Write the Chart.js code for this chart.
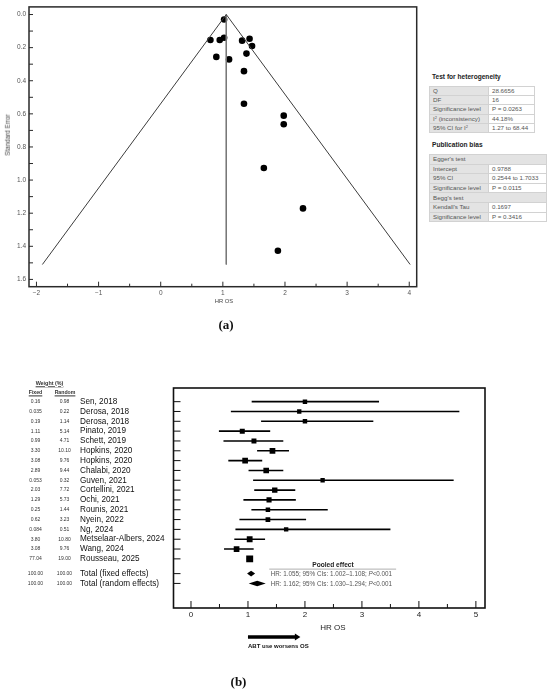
<!DOCTYPE html>
<html>
<head>
<meta charset="utf-8">
<script src="https://cdn.jsdelivr.net/npm/chart.js@4/dist/chart.umd.min.js"></script>
<style>
  body { margin: 0; background: #fff; width: 550px; height: 692px; position: relative; overflow: hidden; font-family: "Liberation Sans", Arial, sans-serif; }
  canvas { position: absolute; }
  .t { position: absolute; white-space: nowrap; line-height: 1; transform: translate(-50%, -50%); }
  .lab { position: absolute; white-space: nowrap; line-height: 1; transform: translateY(-50%); }
  .panel { font-family: "Liberation Serif", "Times New Roman", serif; font-weight: bold; font-size: 13px; color: #111; }
  .ttl { font-weight: bold; font-size: 6.6px; color: #222; }
  table { position: absolute; border-collapse: collapse; font-size: 6.2px; color: #555; table-layout: fixed; }
  td { border: 1px solid #d2d2d2; padding: 0 0 0 3px; line-height: 1; white-space: nowrap; overflow: hidden; }
  td.k { background: #e3e3e3; }
  sup { font-size: 4px; vertical-align: 2px; }
  .u { text-decoration: underline; font-weight: bold; font-size: 5.2px; color: #333; }
</style>
</head>
<body>
<canvas id="funnel" width="425" height="300" style="left:0;top:0"></canvas>
<canvas id="forest" width="495" height="312" style="left:0;top:380px"></canvas>

<div class="t" style="left:7.5px;top:135px;font-size:6.3px;color:#444;transform:translate(-50%,-50%) rotate(-90deg)">Standard Error</div>
<div class="t" style="left:224px;top:302px;font-size:5.8px;color:#444">HR OS</div>
<div class="t panel" style="left:226px;top:324px">(a)</div>

<div class="lab ttl" style="left:432px;top:76.5px">Test for heterogeneity</div>
<table style="left:429px;top:85.5px;width:105px">
  <colgroup><col style="width:59px"><col style="width:46px"></colgroup>
  <tr style="height:9.4px"><td class="k">Q</td><td>28.6656</td></tr>
  <tr style="height:9.4px"><td class="k">DF</td><td>16</td></tr>
  <tr style="height:9.4px"><td class="k">Significance level</td><td>P = 0.0263</td></tr>
  <tr style="height:9.4px"><td class="k">I<sup>2</sup> (inconsistency)</td><td>44.18%</td></tr>
  <tr style="height:9.4px"><td class="k">95% CI for I<sup>2</sup></td><td>1.27 to 68.44</td></tr>
</table>

<div class="lab ttl" style="left:432px;top:145px">Publication bias</div>
<table style="left:429px;top:154px;width:117px">
  <colgroup><col style="width:59px"><col style="width:58px"></colgroup>
  <tr style="height:9.6px"><td class="k" colspan="2">Egger's test</td></tr>
  <tr style="height:9.6px"><td class="k">Intercept</td><td>0.9788</td></tr>
  <tr style="height:9.6px"><td class="k">95% CI</td><td>0.2544 to 1.7033</td></tr>
  <tr style="height:9.6px"><td class="k">Significance level</td><td>P = 0.0115</td></tr>
  <tr style="height:9.6px"><td class="k" colspan="2">Begg's test</td></tr>
  <tr style="height:9.6px"><td class="k">Kendall's Tau</td><td>0.1697</td></tr>
  <tr style="height:9.6px"><td class="k">Significance level</td><td>P = 0.3416</td></tr>
</table>

<div class="t u" style="left:49.5px;top:383.5px;font-size:5.4px">Weight (%)</div>
<div class="t u" style="left:35.5px;top:393px">Fixed</div>
<div class="t u" style="left:65px;top:393px">Random</div>

<div class="t" style="left:333px;top:565px;font-size:6.6px;font-weight:bold;color:#222">Pooled effect</div>
<div class="t" style="left:333px;top:628px;font-size:8px;color:#222">HR OS</div>
<div class="lab" style="left:248px;top:645.5px;font-size:6px;font-weight:bold;color:#111">ABT use worsens OS</div>
<div class="t panel" style="left:238.5px;top:681px">(b)</div>

<script>
// ---- panel (a): funnel plot ----
const funnelHR = [1.02, 0.80, 0.95, 1.02, 0.895, 1.10, 1.31, 1.43, 1.47, 1.38, 1.34, 1.34, 1.66, 1.886, 1.98, 1.98, 2.29];
const funnelSE = [0.03, 0.154, 0.154, 0.14, 0.256, 0.271, 0.158, 0.146, 0.19, 0.236, 0.342, 0.539, 0.927, 1.427, 0.611, 0.663, 1.171];
const funnelCentre = 1.055;
const funnelSEMax = 1.51;
const funnelXTicks = [-2, -1, 0, 1, 2, 3, 4];
const funnelYTicks = [0, 0.2, 0.4, 0.6, 0.8, 1.0, 1.2, 1.4, 1.6];

// ---- panel (b): forest plot ----
const studies = ['Sen, 2018', 'Derosa, 2018', 'Derosa, 2018', 'Pinato, 2019', 'Schett, 2019', 'Hopkins, 2020', 'Hopkins, 2020',
  'Chalabi, 2020', 'Guven, 2021', 'Cortellini, 2021', 'Ochi, 2021', 'Rounis, 2021', 'Nyein, 2022', 'Ng, 2024',
  'Metselaar-Albers, 2024', 'Wang, 2024', 'Rousseau, 2025'];
const weightFixed = ['0.16', '0.035', '0.19', '1.11', '0.99', '3.30', '3.08', '2.89', '0.053', '2.03', '1.29', '0.25', '0.62', '0.084', '3.80', '3.08', '77.04'];
const weightRandom = ['0.98', '0.22', '1.14', '5.14', '4.71', '10.10', '9.76', '9.44', '0.32', '7.72', '5.73', '1.44', '3.23', '0.51', '10.80', '9.76', '19.00'];
const hr = [2.00, 1.90, 2.00, 0.90, 1.105, 1.43, 0.95, 1.32, 2.31, 1.47, 1.37, 1.35, 1.35, 1.67, 1.03, 0.80, 1.03];
const ciLow = [1.065, 0.70, 1.23, 0.49, 0.57, 1.16, 0.655, 1.01, 1.09, 1.11, 0.92, 1.06, 0.85, 0.78, 0.76, 0.58, 0.98];
const ciHigh = [3.30, 4.71, 3.20, 1.39, 1.62, 1.72, 1.25, 1.62, 4.61, 1.83, 1.84, 2.40, 2.02, 3.50, 1.30, 1.10, 1.08];
const totals = ['Total (fixed effects)', 'Total (random effects)'];
const pooledHR = [1.055, 1.162];
const pooledLow = [1.002, 1.030];
const pooledHigh = [1.108, 1.294];
const pooledText = ['HR: 1.055; 95% CIs: 1.002\u20131.108; ', 'HR: 1.162; 95% CIs: 1.030\u20131.294; '];
const forestXTicks = [0, 1, 2, 3, 4, 5];

Chart.defaults.font.family = '"Liberation Sans", Arial, sans-serif';
Chart.defaults.animation = false;

const fixW = (w) => (s) => { s.width = w; };
const fixH = (h) => (s) => { s.height = h; };
const noGrid = { display: false, drawTicks: false };

function seg(ctx, x1, y1, x2, y2) { ctx.beginPath(); ctx.moveTo(x1, y1); ctx.lineTo(x2, y2); ctx.stroke(); }

const funnelFrame = {
  id: 'funnelFrame',
  afterDraw(c) {
    const { ctx, chartArea: a, scales: { x, y } } = c;
    ctx.save();
    ctx.strokeStyle = '#2a2a2a';
    ctx.lineWidth = 1;
    for (let v = -2; v <= 4; v += 0.5) {
      const px = x.getPixelForValue(v);
      seg(ctx, px, a.bottom, px, a.bottom - (Number.isInteger(v) ? 5 : 3));
    }
    for (let k = 0; k <= 16; k++) {
      const py = y.getPixelForValue(k / 10);
      seg(ctx, a.left, py, a.left + 4, py);
    }
    ctx.lineWidth = 1.5;
    ctx.strokeRect(a.left, a.top, a.right - a.left, a.bottom - a.top);
    ctx.restore();
  }
};

new Chart(document.getElementById('funnel'), {
  type: 'scatter',
  data: {
    datasets: [
      { type: 'line', data: [{ x: funnelCentre - 1.96 * funnelSEMax, y: funnelSEMax }, { x: funnelCentre, y: 0 }, { x: funnelCentre + 1.96 * funnelSEMax, y: funnelSEMax }],
        borderColor: '#3c3c3c', borderWidth: 1, pointRadius: 0, tension: 0 },
      { type: 'line', data: [{ x: funnelCentre, y: 0 }, { x: funnelCentre, y: funnelSEMax }],
        borderColor: '#777', borderWidth: 1, pointRadius: 0 },
      { data: funnelHR.map((v, i) => ({ x: v, y: funnelSE[i] })), backgroundColor: '#000', borderWidth: 0, pointRadius: 3.3 }
    ]
  },
  options: {
    responsive: false,
    layout: { padding: { top: 6, right: 8.3, left: 0, bottom: 0 } },
    plugins: { legend: { display: false }, tooltip: { enabled: false } },
    scales: {
      x: {
        min: -2.12, max: 4.12,
        afterBuildTicks: (s) => { s.ticks = funnelXTicks.map(v => ({ value: v })); },
        afterFit: fixH(13.3),
        grid: noGrid, border: { display: false },
        ticks: { padding: 3, color: '#555', font: { size: 6.5 }, maxRotation: 0,
          callback: (v) => v < 0 ? '\u2212' + Math.abs(v) : String(v) }
      },
      y: {
        reverse: true, min: -0.046, max: 1.644,
        afterBuildTicks: (s) => { s.ticks = funnelYTicks.map(v => ({ value: v })); },
        afterFit: fixW(29),
        grid: noGrid, border: { display: false },
        ticks: { padding: 3, color: '#555', font: { size: 6.5 }, callback: (v) => Number(v).toFixed(1) }
      }
    }
  },
  plugins: [funnelFrame]
});

const nRows = studies.length;
const totalRows = [nRows + 0.5, nRows + 1.5];
const rowLabel = (v) => v < nRows ? studies[v] : totals[totalRows.indexOf(v)];
const squareSide = (w) => 4.3 + 0.14 * Number(w);

const forestDraw = {
  id: 'forestDraw',
  afterDraw(c) {
    const { ctx, chartArea: a, scales: { x, y } } = c;
    ctx.save();
    ctx.strokeStyle = '#111';
    ctx.lineWidth = 1;
    [...studies.map((s, i) => i), ...totalRows].forEach(v => {
      const py = y.getPixelForValue(v);
      seg(ctx, a.left, py, a.left + 7, py);
    });
    for (let v = 0; v <= 5; v += 0.5) {
      const px = x.getPixelForValue(v);
      seg(ctx, px, a.bottom, px, a.bottom - (Number.isInteger(v) ? 7 : 4));
    }
    ctx.lineWidth = 1.6;
    ctx.strokeRect(a.left, a.top, a.right - a.left, a.bottom - a.top);

    // pooled diamonds
    ctx.fillStyle = '#000';
    totalRows.forEach((r, k) => {
      const py = y.getPixelForValue(r);
      const lo = x.getPixelForValue(pooledLow[k]), hi = x.getPixelForValue(pooledHigh[k]), mid = x.getPixelForValue(pooledHR[k]);
      ctx.beginPath();
      ctx.moveTo(lo - 1, py); ctx.lineTo(mid, py - 2.8); ctx.lineTo(hi + 1, py); ctx.lineTo(mid, py + 2.8);
      ctx.closePath(); ctx.fill();
    });

    // weight columns
    ctx.font = '5px "Liberation Sans", Arial, sans-serif';
    ctx.fillStyle = '#333';
    ctx.textAlign = 'center';
    ctx.textBaseline = 'middle';
    studies.forEach((s, i) => {
      const py = y.getPixelForValue(i);
      ctx.fillText(weightFixed[i], 35.5, py);
      ctx.fillText(weightRandom[i], 64.5, py);
    });
    totalRows.forEach(r => {
      const py = y.getPixelForValue(r);
      ctx.fillText('100.00', 35.5, py);
      ctx.fillText('100.00', 64.5, py);
    });

    // pooled effect notes
    const tx = x.getPixelForValue(1.4);
    ctx.strokeStyle = '#9a9a9a';
    ctx.lineWidth = 0.8;
    const uy = y.getPixelForValue(totalRows[0]) - 4.5;
    seg(ctx, tx - 1.5, uy, x.getPixelForValue(3.6), uy);
    ctx.textAlign = 'left';
    ctx.fillStyle = '#555';
    totalRows.forEach((r, k) => {
      const py = y.getPixelForValue(r) + 0.5;
      ctx.font = '6.3px "Liberation Sans", Arial, sans-serif';
      ctx.fillText(pooledText[k], tx, py);
      const w = ctx.measureText(pooledText[k]).width;
      ctx.font = 'italic 6.3px "Liberation Sans", Arial, sans-serif';
      ctx.fillText('P', tx + w, py);
      const wp = ctx.measureText('P').width;
      ctx.font = '6.3px "Liberation Sans", Arial, sans-serif';
      ctx.fillText('<0.001', tx + w + wp, py);
    });

    // direction arrow
    const ay = a.bottom + 29;
    const ax0 = x.getPixelForValue(1), ax1 = x.getPixelForValue(1.92);
    ctx.strokeStyle = '#000';
    ctx.fillStyle = '#000';
    ctx.lineWidth = 3.4;
    seg(ctx, ax0, ay, ax1 - 4, ay);
    ctx.beginPath();
    ctx.moveTo(ax1 - 5.5, ay - 3.6); ctx.lineTo(ax1, ay); ctx.lineTo(ax1 - 5.5, ay + 3.6);
    ctx.closePath(); ctx.fill();
    ctx.restore();
  }
};

new Chart(document.getElementById('forest'), {
  type: 'scatter',
  data: {
    datasets: [
      ...studies.map((s, i) => ({
        type: 'line', data: [{ x: ciLow[i], y: i }, { x: ciHigh[i], y: i }],
        borderColor: '#000', borderWidth: 1.6, pointRadius: 0
      })),
      {
        data: hr.map((v, i) => ({ x: v, y: i })),
        pointStyle: 'rect', backgroundColor: '#000', borderWidth: 0,
        pointRadius: weightRandom.map(w => squareSide(w) / Math.SQRT2)
      }
    ]
  },
  options: {
    responsive: false,
    layout: { padding: { top: 8, right: 10, left: 80, bottom: 72 } },
    plugins: { legend: { display: false }, tooltip: { enabled: false } },
    scales: {
      x: {
        min: -0.307, max: 5.16,
        afterBuildTicks: (s) => { s.ticks = forestXTicks.map(v => ({ value: v })); },
        afterFit: fixH(12),
        grid: noGrid, border: { display: false },
        ticks: { padding: 2, color: '#222', font: { size: 8 }, maxRotation: 0 }
      },
      y: {
        reverse: true, min: -1.39, max: 21.0,
        afterBuildTicks: (s) => { s.ticks = [...studies.map((st, i) => i), ...totalRows].map(v => ({ value: v })); },
        afterFit: fixW(93.5),
        grid: noGrid, border: { display: false },
        ticks: { autoSkip: false, crossAlign: 'far', color: '#111', font: { size: 8.2 }, callback: (v) => rowLabel(v) }
      }
    }
  },
  plugins: [forestDraw]
});
</script>
</body>
</html>
